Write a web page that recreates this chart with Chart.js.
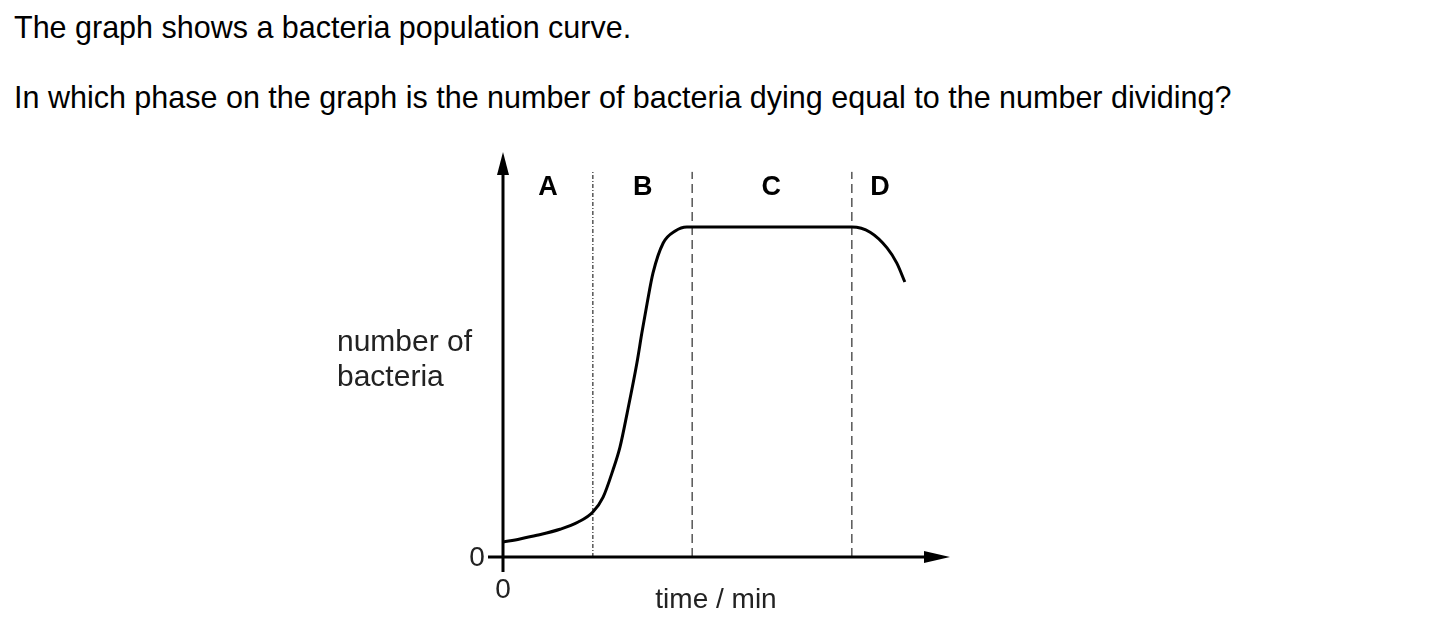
<!DOCTYPE html>
<html>
<head>
<meta charset="utf-8">
<script src="https://cdn.jsdelivr.net/npm/chart.js@4"></script>
<style>
  body { margin: 0; background: #fff; }
  #wrap { position: relative; width: 1439px; height: 642px; overflow: hidden; }
  #chartCanvas { position: absolute; left: 0; top: 0; }
  .q { position: absolute; left: 14px; font-family: "Liberation Sans", Arial, sans-serif; font-size: 30.5px; color: #000; white-space: nowrap; }
</style>
</head>
<body>
<div id="wrap">
  <div class="q" style="top:10px">The graph shows a bacteria population curve.</div>
  <div class="q" style="top:80px">In which phase on the graph is the number of bacteria dying equal to the number dividing?</div>
  <canvas id="chartCanvas" width="1439" height="642"></canvas>
</div>
<script>
// data (x = time, y = number of bacteria, both in arbitrary units 0-100)
const timeValues     = [0, 3.8, 7.6, 12.8, 16.9, 20.2, 22.5, 24.7, 26.3, 27.9, 30.1, 31.2, 32.4, 33.7, 36.0, 38.7, 41.3, 42.5, 78.4, 82.5, 86.3, 88.5, 90.3]
const bacteriaValues = [3.7, 4.5, 5.4, 6.9, 8.7, 11.2, 14.9, 21.6, 27.4, 35.8, 48.3, 55.7, 63.2, 70.6, 78.1, 81.1, 82.1, 82.1, 82.1, 80.8, 76.9, 73.1, 68.4]

// faser
const phaseNames   = ["A", "B", "C", "D"]
const phaseCenters = [10.1, 31.4, 60.3, 84.7]
const phaseEdges   = [20.2, 42.5, 78.4]
const edgeTop = 95.8

const xLabel = "time / min"
const yLabel = ["number of", "bacteria"]
const zeroLabel = "0"

// kurven
const datasets = [{
    data: timeValues.map((t, i) => ({x: t, y: bacteriaValues[i]})),
    borderColor: "#000",
    borderWidth: 3,
    pointRadius: 0,
    cubicInterpolationMode: "monotone",
    fill: false
}]

// lodrette stiplede linjer mellem faserne
phaseEdges.forEach((e, i) => {
    datasets.push({
        data: [{x: e, y: 0}, {x: e, y: edgeTop}],
        borderColor: "#000",
        borderWidth: 1,
        borderDash: i == 0 ? [4, 2, 1, 2] : [9, 5],
        pointRadius: 0
    })
})

// akser, pile og tekst
const axesPlugin = {
    id: "axes",
    afterDatasetsDraw(chart) {
        const c = chart.ctx
        const xs = chart.scales.x, ys = chart.scales.y
        const x0 = xs.getPixelForValue(0), y0 = ys.getPixelForValue(0)
        const xEnd = xs.right, yEnd = ys.top
        c.save()
        c.strokeStyle = "#000"
        c.fillStyle = "#000"
        c.lineWidth = 3
        c.beginPath()
        c.moveTo(x0, y0 + 15); c.lineTo(x0, yEnd + 14)
        c.moveTo(x0 - 15, y0); c.lineTo(xEnd - 20, y0)
        c.stroke()
        // pil op
        c.beginPath()
        c.moveTo(x0, yEnd - 3); c.lineTo(x0 - 6, yEnd + 20); c.lineTo(x0 + 6, yEnd + 20)
        c.closePath(); c.fill()
        // pil højre
        c.beginPath()
        c.moveTo(xEnd + 2, y0); c.lineTo(xEnd - 24, y0 - 6); c.lineTo(xEnd - 24, y0 + 6)
        c.closePath(); c.fill()

        c.font = "bold 27px 'Liberation Sans', Arial, sans-serif"
        c.textAlign = "center"
        c.textBaseline = "middle"
        phaseNames.forEach((n, i) => {
            c.fillText(n, xs.getPixelForValue(phaseCenters[i]), ys.getPixelForValue(92))
        })

        c.fillStyle = "#222"
        c.font = "28px 'Liberation Sans', Arial, sans-serif"
        c.fillText(zeroLabel, x0 - 26, y0 + 1)
        c.fillText(zeroLabel, x0, y0 + 33)
        c.fillText(xLabel, 716, y0 + 43)
        c.textAlign = "left"
        c.font = "30px 'Liberation Sans', Arial, sans-serif"
        c.fillText(yLabel[0], 337, 343)
        c.fillText(yLabel[1], 337, 378)
        c.restore()
    }
}

const ctx = document.getElementById("chartCanvas")
const myChart = new Chart(ctx, {
    type: "line",
    data: {datasets: datasets},
    options: {
        responsive: false,
        animation: false,
        devicePixelRatio: 1,
        layout: {padding: {left: 503, right: 491, top: 155, bottom: 85}},
        scales: {
            x: {type: "linear", min: 0, max: 100, display: false},
            y: {type: "linear", min: 0, max: 100, display: false}
        },
        plugins: {legend: {display: false}, tooltip: {enabled: false}}
    },
    plugins: [axesPlugin]
})
</script>
</body>
</html>
